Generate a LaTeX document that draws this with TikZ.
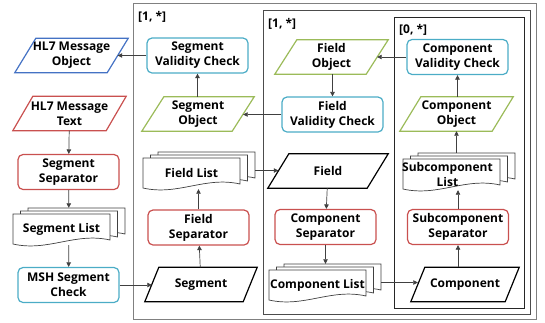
\documentclass[tikz,border=0pt]{standalone}
\usepackage{fontspec}
\setmainfont{Open Sans}
\usetikzlibrary{arrows.meta}

\definecolor{cred}{HTML}{C9504F}
\definecolor{ccyan}{HTML}{4BACC6}
\definecolor{cgreen}{HTML}{9BBB59}
\definecolor{cblue}{HTML}{4472C4}
\definecolor{cline}{HTML}{404040}

\tikzset{
  txt/.style={font=\bfseries\fontsize{12}{15}\selectfont, align=center, text=black},
  proc/.style={txt, draw=#1, rounded corners=5pt, line width=1.2pt,
    minimum width=101pt, minimum height=35pt, inner sep=1pt},
  io/.style={txt, minimum height=34pt, inner sep=0pt},
  doc/.style={draw=cline, line width=0.7pt, fill=white},
  arr/.style={draw=cline, line width=0.7pt, -{Triangle[length=4.5pt,width=4.5pt]}},
  frame/.style={draw=#1, line width=1pt},
  tag/.style={txt, anchor=west, inner sep=0pt}
}

% parallelogram (data) box: name, position, edge length, slant, colour, text
\newcommand\iobox[6]{%
  \node[io, minimum width=#3pt] (#1) at (#2) {#6};
  \draw[#5, line width=1.2pt]
    ([xshift=0.5*#4pt]#1.north west) -- ([xshift=0.5*#4pt]#1.north east) --
    ([xshift=-0.5*#4pt]#1.south east) -- ([xshift=-0.5*#4pt]#1.south west) -- cycle;
}

% one document sheet with a wavy lower edge, top-left corner at (#1,#2)
\newcommand\docsheet[2]{%
  \draw[doc] (#1,#2) -- ({#1+97},#2) -- ({#1+97},{#2+26})
    .. controls ({#1+62},{#2+18}) and ({#1+35},{#2+38}) .. (#1,{#2+30}) -- cycle;
}

% stack of three sheets: name, x, y of the front sheet's top-left corner
\newcommand\docstack[3]{%
  \docsheet{#2+15}{#3-6}
  \docsheet{#2+7.5}{#3-3}
  \docsheet{#2}{#3}
  \node[inner sep=0pt, minimum width=112pt, minimum height=37pt] (#1)
    at ({#2+56},{#3+12.5}) {};
}

\begin{document}
\begin{tikzpicture}[x=1pt, y=-1pt]
\useasboundingbox (0,0) rectangle (545,322);

% nested repetition frames
\draw[frame=gray] (133,3) rectangle (536,319);
\draw[frame=black!70] (263,10) rectangle (530,314);
\draw[frame=black!85] (394,17) rectangle (524,308);
\node[tag] (t1) at (138,17) {[1, *]};
\node[tag] (t2) at (268,24) {[1, *]};
\node[tag] (t3) at (399,30) {[0, *]};

% message level
\iobox{msgobj}{71.5,55.5}{92}{21}{cblue}{HL7 Message\\Object}
\iobox{msgtxt}{69.5,113.5}{93}{20}{cred}{HL7 Message\\Text}
\node[proc=cred] (segsep) at (68.5,172) {Segment\\Separator};
\docstack{seglist}{13}{214}
\node[txt] (seglisttxt) at (61.5,229) {Segment List};
\node[proc=ccyan] (msh) at (68.5,285) {MSH Segment\\Check};

% segment level
\node[proc=ccyan] (segvc) at (197.5,55.5) {Segment\\Validity Check};
\iobox{segobj}{198,114}{90}{22}{cgreen}{Segment\\Object}
\docstack{fldlist}{143}{158}
\node[txt] (fldlisttxt) at (191.5,173) {Field List};
\node[proc=cred] (fldsep) at (198.5,227.5) {Field\\Separator};
\iobox{seg}{201,284.5}{98}{14}{black}{Segment}

% field level
\iobox{fldobj}{331.5,57}{91}{22}{cgreen}{Field\\Object}
\node[proc=ccyan] (fldvc) at (332.5,114.5) {Field\\Validity Check};
\iobox{fld}{328,171}{99}{21}{black}{Field}
\node[proc=cred] (cmpsep) at (325.5,227) {Component\\Separator};
\docstack{cmplist}{269}{270}
\node[txt] (cmplisttxt) at (317.5,285) {Component List};

% component level
\node[proc=ccyan] (cmpvc) at (457.5,57) {Component\\Validity Check};
\iobox{cmpobj}{456.5,114}{92}{21}{cgreen}{Component\\Object}
\docstack{sublist}{403}{159}
\node[txt] (sublisttxt) at (447.5,174) {Subcomponent\\List};
\node[proc=cred] (subsep) at (458,227) {Subcomponent\\Separator};
\iobox{cmp}{465,284.5}{94}{14}{black}{Component}

% flow
\draw[arr] (msgtxt) -- (segsep);
\draw[arr] (segsep) -- (seglist);
\draw[arr] (seglist) -- (msh);
\draw[arr] (msh.east) -- (msh.east -| seg.west);
\draw[arr] (seg) -- (fldsep);
\draw[arr] (fldsep) -- (fldlist.south -| fldsep);
\draw[arr] (fldlist.east) -- (fldlist.east -| fld.west);
\draw[arr] (fld) -- (cmpsep);
\draw[arr] (cmpsep) -- (cmpsep |- cmplist.north);
\draw[arr] (cmplist.east) -- (cmplist.east -| cmp.west);
\draw[arr] (cmp.north -| subsep) -- (subsep);
\draw[arr] (subsep) -- (subsep |- sublist.south);
\draw[arr] (sublist.north -| cmpobj) -- (cmpobj);
\draw[arr] (cmpobj.north -| cmpvc) -- (cmpvc);
\draw[arr] (cmpvc.west) -- (cmpvc.west -| fldobj.east);
\draw[arr] (fldobj.south -| fldvc) -- (fldvc);
\draw[arr] (fldvc.west) -- (fldvc.west -| segobj.east);
\draw[arr] (segobj.north -| segvc) -- (segvc);
\draw[arr] (segvc.west) -- (segvc.west -| msgobj.east);
\end{tikzpicture}
\end{document}
